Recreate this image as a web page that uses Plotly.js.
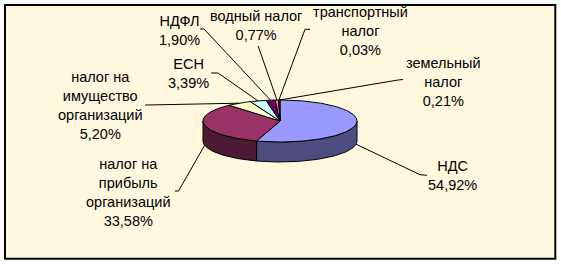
<!DOCTYPE html>
<html>
<head>
<meta charset="utf-8">
<script src="https://cdn.plot.ly/plotly-3.0.1.min.js"></script>
<style>
  html, body { margin: 0; padding: 0; background: #ffffff; }
  #chart { width: 561px; height: 264px; }
</style>
</head>
<body>
<div id="chart"></div>
<script>
// Структура налоговых поступлений, %
const categories = [
  'НДС',
  'налог на<br>прибыль<br>организаций',
  'налог на<br>имущество<br>организаций',
  'ЕСН',
  'НДФЛ',
  'водный налог',
  'транспортный<br>налог',
  'земельный<br>налог'
];
const values = [54.92, 33.58, 5.20, 3.39, 1.90, 0.77, 0.03, 0.21];
const colors = ['#9999FF', '#993366', '#FFFFCC', '#CCFFFF', '#660066', '#FF8080', '#0066CC', '#CCCCFF'];

// Label centres and the label-side points of the leader lines (pixel space)
const labelCenter = [
  [452.5, 175], [128, 192], [100, 105], [188, 73],
  [179, 30], [256, 25], [360, 31], [443, 82]
];
const leaderTail = [
  [[427, 175.3], [420, 174.7]],
  [[175, 191], [178.5, 191]],
  [[145, 105], [147, 105]],
  [[211, 73], [218, 73]],
  [[200, 29], [204, 29]],
  [[258, 46], [258.5, 47]],
  [[310, 29.3], [305, 29.3]],
  [[403, 79.5], [398, 80]]
];

// 3-D disc geometry in pixel space
const CX = 280, CY = 121, RX = 77, RY = 21, DEPTH = 20;
const rad = d => d * Math.PI / 180;
const ptTop = d => [CX + RX * Math.sin(rad(d)), CY - RY * Math.cos(rad(d))];

function arc(a, b, dy) {
  const pts = [];
  const n = Math.max(2, Math.ceil(Math.abs(b - a)));
  for (let i = 0; i <= n; i++) {
    const d = a + (b - a) * i / n;
    const p = ptTop(d);
    pts.push([p[0], p[1] + dy]);
  }
  return pts;
}

function darker(hex, k) {
  const n = parseInt(hex.slice(1), 16);
  const r = Math.round(((n >> 16) & 255) * k);
  const g = Math.round(((n >> 8) & 255) * k);
  const b = Math.round((n & 255) * k);
  return 'rgb(' + r + ',' + g + ',' + b + ')';
}

const total = values.reduce((s, v) => s + v, 0);
const starts = [], ends = [];
let acc = 0;
values.forEach(v => {
  starts.push(acc / total * 360);
  acc += v;
  ends.push(acc / total * 360);
});

const traces = [];

// Front walls of the disc (visible half: 90..270 degrees clockwise from top)
values.forEach((v, i) => {
  const a = Math.max(starts[i], 90), b = Math.min(ends[i], 270);
  if (b <= a) return;
  const poly = arc(a, b, 0).concat(arc(b, a, DEPTH));
  poly.push(poly[0]);
  traces.push({
    type: 'scatter', mode: 'lines', fill: 'toself',
    x: poly.map(p => p[0]), y: poly.map(p => p[1]),
    fillcolor: darker(colors[i], 0.5),
    line: { color: '#000000', width: 1 },
    hoverinfo: 'skip', showlegend: false
  });
});

// Top faces of the slices
values.forEach((v, i) => {
  const poly = [[CX, CY]].concat(arc(starts[i], ends[i], 0));
  poly.push([CX, CY]);
  traces.push({
    type: 'scatter', mode: 'lines', fill: 'toself',
    x: poly.map(p => p[0]), y: poly.map(p => p[1]),
    fillcolor: colors[i],
    line: { color: '#000000', width: 1 },
    hoverinfo: 'skip', showlegend: false
  });
});

// Leader lines from the labels to the slice rims
values.forEach((v, i) => {
  const mid = (starts[i] + ends[i]) / 2;
  const p = ptTop(mid);
  if (Math.cos(rad(mid)) < 0) p[1] += DEPTH;
  const pts = leaderTail[i].concat([p]);
  traces.push({
    type: 'scatter', mode: 'lines',
    x: pts.map(q => q[0]), y: pts.map(q => q[1]),
    line: { color: '#000000', width: 1 },
    hoverinfo: 'skip', showlegend: false
  });
});

const fmt = v => v.toFixed(2).replace('.', ',') + '%';

const annotations = values.map((v, i) => ({
  x: labelCenter[i][0], y: labelCenter[i][1], xref: 'x', yref: 'y',
  text: categories[i] + '<br>' + fmt(v),
  showarrow: false, align: 'center',
  xanchor: 'center', yanchor: 'middle',
  font: { family: 'Liberation Sans, Arial, sans-serif', size: 14.5, color: '#000000' }
}));

const layout = {
  width: 561, height: 264,
  margin: { l: 0, r: 0, t: 0, b: 0 },
  paper_bgcolor: '#ffffff', plot_bgcolor: '#ffffff',
  xaxis: { range: [0, 561], visible: false, fixedrange: true },
  yaxis: { range: [264, 0], visible: false, fixedrange: true },
  shapes: [{
    type: 'rect', xref: 'x', yref: 'y', layer: 'below',
    x0: 5, y0: 5, x1: 555.3, y1: 258.7,
    fillcolor: '#FFF8DE', line: { color: '#000000', width: 2 }
  }],
  annotations: annotations,
  showlegend: false
};

Plotly.newPlot('chart', traces, layout, { staticPlot: true, displayModeBar: false });
</script>
</body>
</html>
